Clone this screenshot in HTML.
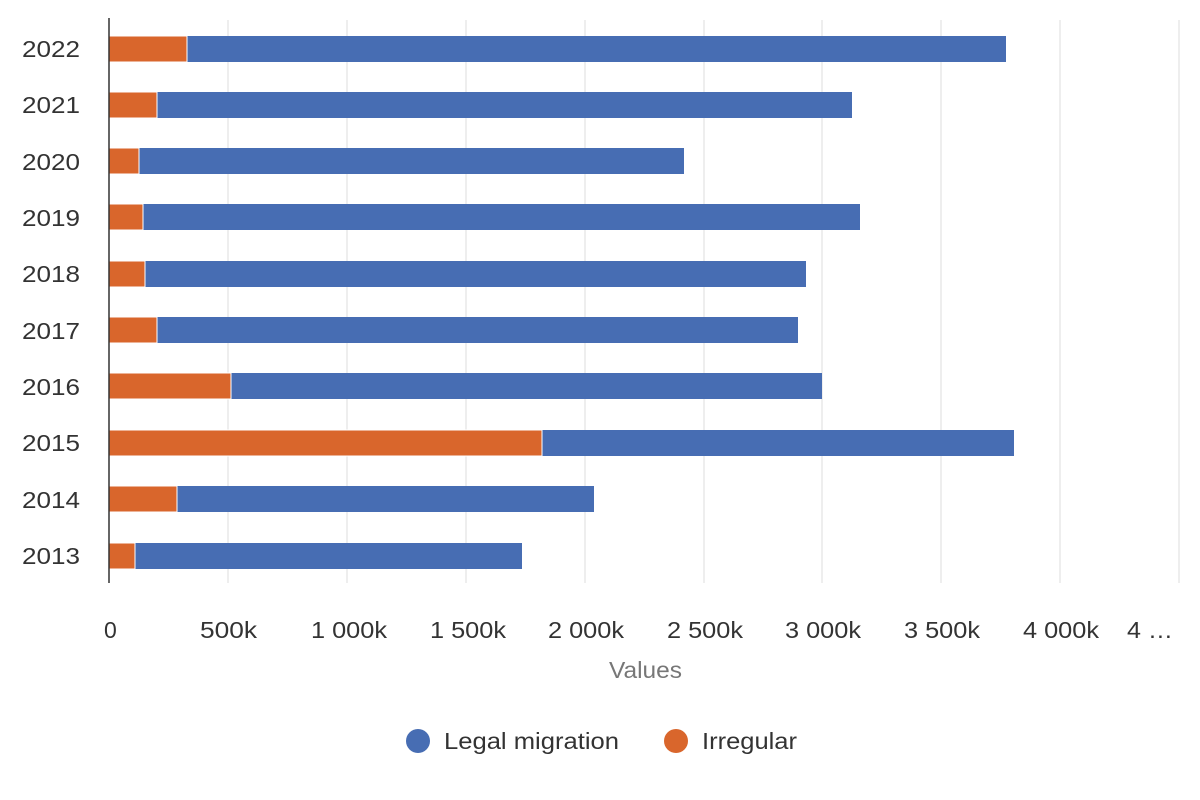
<!DOCTYPE html>
<html><head><meta charset="utf-8"><style>
html,body{margin:0;padding:0;background:#fff;}
svg{display:block;font-family:"Liberation Sans",sans-serif;}
</style></head><body>
<svg width="1200" height="800" xmlns="http://www.w3.org/2000/svg">
<g stroke="#dedede" stroke-width="1">
<line x1="228" y1="20" x2="228" y2="583"/><line x1="347" y1="20" x2="347" y2="583"/>
<line x1="466" y1="20" x2="466" y2="583"/><line x1="585" y1="20" x2="585" y2="583"/>
<line x1="704" y1="20" x2="704" y2="583"/><line x1="822" y1="20" x2="822" y2="583"/>
<line x1="941" y1="20" x2="941" y2="583"/><line x1="1060" y1="20" x2="1060" y2="583"/>
<line x1="1179" y1="20" x2="1179" y2="583"/>
</g>
<g>
<rect x="109" y="36" width="897" height="26" fill="#476db3"/><rect x="109" y="36" width="78" height="26" fill="#d9662c" stroke="#fff" stroke-width="1"/>
<rect x="109" y="92" width="743" height="26" fill="#476db3"/><rect x="109" y="92" width="48" height="26" fill="#d9662c" stroke="#fff" stroke-width="1"/>
<rect x="109" y="148" width="575" height="26" fill="#476db3"/><rect x="109" y="148" width="30" height="26" fill="#d9662c" stroke="#fff" stroke-width="1"/>
<rect x="109" y="204" width="751" height="26" fill="#476db3"/><rect x="109" y="204" width="34" height="26" fill="#d9662c" stroke="#fff" stroke-width="1"/>
<rect x="109" y="261" width="697" height="26" fill="#476db3"/><rect x="109" y="261" width="36" height="26" fill="#d9662c" stroke="#fff" stroke-width="1"/>
<rect x="109" y="317" width="689" height="26" fill="#476db3"/><rect x="109" y="317" width="48" height="26" fill="#d9662c" stroke="#fff" stroke-width="1"/>
<rect x="109" y="373" width="713" height="26" fill="#476db3"/><rect x="109" y="373" width="122" height="26" fill="#d9662c" stroke="#fff" stroke-width="1"/>
<rect x="109" y="430" width="905" height="26" fill="#476db3"/><rect x="109" y="430" width="433" height="26" fill="#d9662c" stroke="#fff" stroke-width="1"/>
<rect x="109" y="486" width="485" height="26" fill="#476db3"/><rect x="109" y="486" width="68" height="26" fill="#d9662c" stroke="#fff" stroke-width="1"/>
<rect x="109" y="543" width="413" height="26" fill="#476db3"/><rect x="109" y="543" width="26" height="26" fill="#d9662c" stroke="#fff" stroke-width="1"/>
</g>
<line x1="109" y1="18" x2="109" y2="583" stroke="#333" stroke-width="1.5"/>
<g font-size="23" fill="#333" lengthAdjust="spacingAndGlyphs">
<text x="22" y="57" textLength="58" lengthAdjust="spacingAndGlyphs">2022</text>
<text x="22" y="113" textLength="58" lengthAdjust="spacingAndGlyphs">2021</text>
<text x="22" y="170" textLength="58" lengthAdjust="spacingAndGlyphs">2020</text>
<text x="22" y="226" textLength="58" lengthAdjust="spacingAndGlyphs">2019</text>
<text x="22" y="282" textLength="58" lengthAdjust="spacingAndGlyphs">2018</text>
<text x="22" y="339" textLength="58" lengthAdjust="spacingAndGlyphs">2017</text>
<text x="22" y="395" textLength="58" lengthAdjust="spacingAndGlyphs">2016</text>
<text x="22" y="451" textLength="58" lengthAdjust="spacingAndGlyphs">2015</text>
<text x="22" y="508" textLength="58" lengthAdjust="spacingAndGlyphs">2014</text>
<text x="22" y="564" textLength="58" lengthAdjust="spacingAndGlyphs">2013</text>
</g>
<g font-size="23" fill="#333">
<text x="104" y="638">0</text>
<text x="200" y="638" textLength="57" lengthAdjust="spacingAndGlyphs">500k</text>
<text x="311" y="638" textLength="76" lengthAdjust="spacingAndGlyphs">1 000k</text>
<text x="430" y="638" textLength="76" lengthAdjust="spacingAndGlyphs">1 500k</text>
<text x="548" y="638" textLength="76" lengthAdjust="spacingAndGlyphs">2 000k</text>
<text x="667" y="638" textLength="76" lengthAdjust="spacingAndGlyphs">2 500k</text>
<text x="785" y="638" textLength="76" lengthAdjust="spacingAndGlyphs">3 000k</text>
<text x="904" y="638" textLength="76" lengthAdjust="spacingAndGlyphs">3 500k</text>
<text x="1023" y="638" textLength="76" lengthAdjust="spacingAndGlyphs">4 000k</text>
<text x="1127" y="638" textLength="46" lengthAdjust="spacingAndGlyphs">4 …</text>
</g>
<text x="609" y="678" font-size="23" fill="#777" textLength="73" lengthAdjust="spacingAndGlyphs">Values</text>
<circle cx="418" cy="741" r="12" fill="#476db3"/>
<text x="444" y="749" font-size="23" fill="#333" textLength="175" lengthAdjust="spacingAndGlyphs">Legal migration</text>
<circle cx="676" cy="741" r="12" fill="#d9662c"/>
<text x="702" y="749" font-size="23" fill="#333" textLength="95" lengthAdjust="spacingAndGlyphs">Irregular</text>
</svg>
</body></html>
